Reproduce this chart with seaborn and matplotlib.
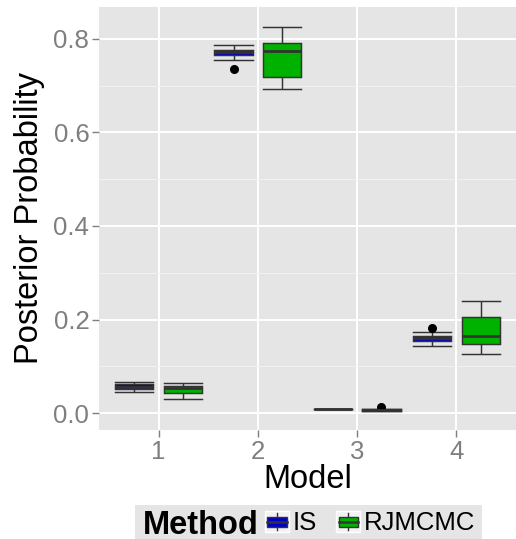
import numpy as np
import pandas as pd
import matplotlib
matplotlib.use("Agg")
import matplotlib.pyplot as plt
import seaborn as sns
from matplotlib.patches import Rectangle
from matplotlib.lines import Line2D
from matplotlib.legend_handler import HandlerBase

# ---------------- data ----------------
models = ["1", "2", "3", "4"]
methods = ["IS", "RJMCMC"]
method_colors = ["#0000CC", "#00B200"]

is_model1 = [0.045, 0.048, 0.051, 0.053, 0.0556, 0.058, 0.062, 0.064, 0.066]
is_model2 = [0.736, 0.754, 0.765, 0.768, 0.772, 0.775, 0.777, 0.782, 0.787]
is_model3 = [0.0080, 0.0082, 0.0084, 0.0085, 0.0086, 0.0087, 0.0088, 0.0089, 0.0090]
is_model4 = [0.144, 0.149, 0.154, 0.158, 0.161, 0.163, 0.164, 0.1726, 0.182]

rj_model1 = [0.030, 0.040, 0.044, 0.048, 0.053, 0.055, 0.058, 0.062, 0.065]
rj_model2 = [0.692, 0.705, 0.719, 0.745, 0.775, 0.785, 0.791, 0.810, 0.826]
rj_model3 = [0.004, 0.0045, 0.005, 0.006, 0.0065, 0.007, 0.008, 0.009, 0.014]
rj_model4 = [0.126, 0.138, 0.1476, 0.155, 0.165, 0.180, 0.206, 0.220, 0.2396]

y_ticks = [0.0, 0.2, 0.4, 0.6, 0.8]
y_tick_labels = ["0.0", "0.2", "0.4", "0.6", "0.8"]

rows = []
for m, vals in zip(models, [is_model1, is_model2, is_model3, is_model4]):
    for v in vals:
        rows.append(("IS", m, v))
for m, vals in zip(models, [rj_model1, rj_model2, rj_model3, rj_model4]):
    for v in vals:
        rows.append(("RJMCMC", m, v))
df = pd.DataFrame(rows, columns=["Method", "Model", "Posterior Probability"])

# ---------------- figure ----------------
W, H = 516, 539
fig = plt.figure(figsize=(W / 100, H / 100), dpi=100)
FONT = ["Liberation Sans", "DejaVu Sans"]
plt.rcParams["font.family"] = FONT

ax = fig.add_axes([99 / W, 1 - 430 / H, (516 - 99) / W, (430 - 7) / H])
ax.set_facecolor("#E5E5E5")

sns.boxplot(
    data=df, x="Model", y="Posterior Probability", hue="Method",
    order=models, hue_order=methods,
    palette=dict(zip(methods, method_colors)), saturation=1,
    width=0.98, gap=0.21, linecolor="#333333", linewidth=1.05,
    fliersize=5.5, whis=1.5,
    flierprops=dict(marker="o", markerfacecolor="black", markeredgecolor="black"),
    medianprops=dict(linewidth=2.0, color="#333333"),
    capwidths=0.387,
    legend=False, ax=ax, zorder=3,
)

ax.set_xlim(-0.6, 3.6)
ax.set_ylim(-0.036, 0.868)
ax.set_yticks(y_ticks)
ax.set_yticklabels(y_tick_labels)
ax.set_yticks([0.1, 0.3, 0.5, 0.7], minor=True)
ax.grid(which="major", color="white", linewidth=1.4, zorder=0)
ax.grid(which="minor", axis="y", color="#F2F2F2", linewidth=0.7, zorder=0)
ax.set_axisbelow(True)
for s in ax.spines.values():
    s.set_visible(False)
ax.tick_params(axis="both", which="major", colors="#7F7F7F", labelcolor="#7F7F7F",
               labelsize=18.5, length=5, width=1, pad=2)
ax.tick_params(axis="y", which="minor", length=0)
ax.set_xlabel("Model", fontsize=23.5, color="black", labelpad=0)
ax.set_ylabel("Posterior Probability", fontsize=23.5, color="black", labelpad=6)

# ---------------- legend ----------------
fig.patches.append(Rectangle((135 / W, 0), (482 - 135) / W, 34 / H,
                             transform=fig.transFigure, facecolor="#E5E5E5",
                             edgecolor="none", zorder=0))
fig.text(143 / W, (539 - 534) / H, "Method", fontsize=23.5, fontweight="bold",
         ha="left", va="baseline", color="black")


class BoxHandler(HandlerBase):
    def create_artists(self, legend, orig_handle, xdescent, ydescent,
                       width, height, fontsize, trans):
        x0, y0 = -xdescent, -ydescent
        col = orig_handle.get_facecolor()
        bg = Rectangle((x0, y0), width, height, facecolor="#F2F2F2",
                       edgecolor="white", lw=1, transform=trans)
        cx = x0 + width / 2
        cy = y0 + height / 2
        vl = Line2D([cx, cx], [y0 + 0.1 * height, y0 + 0.9 * height],
                    color="#333333", lw=1.0, transform=trans)
        box = Rectangle((x0 + 0.1 * width, y0 + 0.27 * height), 0.8 * width,
                        0.46 * height, facecolor=col, edgecolor="#333333",
                        lw=1.0, transform=trans)
        med = Line2D([x0 + 0.1 * width, x0 + 0.9 * width], [cy, cy],
                     color="#333333", lw=1.8, transform=trans)
        return [bg, vl, box, med]


handles = [Rectangle((0, 0), 1, 1, facecolor=c) for c in method_colors]
fig.legend(handles, methods, handler_map={Rectangle: BoxHandler()},
           loc="center left", bbox_to_anchor=(265 / W, (539 - 523) / H),
           ncol=2, frameon=False, fontsize=18.5, borderpad=0, borderaxespad=0,
           handlelength=0.93, handleheight=0.93, handletextpad=0.16,
           columnspacing=0.74)

fig.savefig("out.png", dpi=100)
